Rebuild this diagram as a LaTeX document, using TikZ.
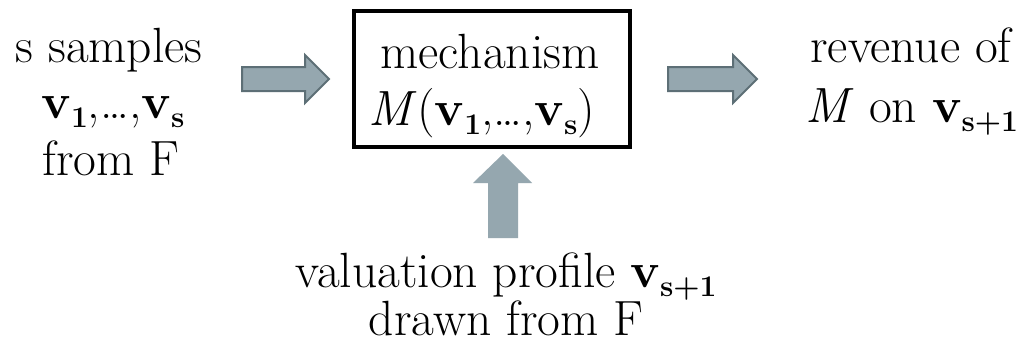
\documentclass[tikz,border=0pt]{standalone}
\usepackage{fontspec}
\newcommand\vsub[1]{\textbf{v}\raisebox{-0.2em}{\fontsize{30}{30}\selectfont\bfseries #1}}
\begin{document}
\begin{tikzpicture}[x=1pt,y=-1pt,
  lbl/.style={anchor=base,inner sep=0pt,font=\fontsize{49.5}{57}\selectfont},
  blockarrow/.style={fill=arrowfill,draw=arrowedge,line width=2pt,line join=miter},
  uparrow/.style={fill=arrowfill},
  mechbox/.style={draw=black,line width=3.5pt}]
\definecolor{arrowfill}{HTML}{95A7AF}
\definecolor{arrowedge}{HTML}{5D6F76}
\useasboundingbox (0,0) rectangle (1023,343);
\fill[white] (0,0) rectangle (1023,343);
% box
\draw[mechbox] (354,11) rectangle (630,147);
% arrows
\draw[blockarrow] (242,67) -- (305,67) -- (305,55) -- (329,79) -- (305,103) -- (305,91) -- (242,91) -- cycle;
\draw[blockarrow] (668,67) -- (733,67) -- (733,55) -- (757,79) -- (733,103) -- (733,91) -- (668,91) -- cycle;
\fill[uparrow] (488,238) -- (488,183) -- (473,183) -- (503,154) -- (532,183) -- (518,183) -- (518,238) -- cycle;
% left text
\node[lbl] (s1) at (109,62) {s samples};
\node[lbl] (s2) at (113,118) {\vsub{1},…,\vsub{s}};
\node[lbl] (s3) at (111,175) {from F};
% box text
\node[lbl] (m1) at (490,68) {mechanism};
\node[lbl] (m2) at (482,125) {\textit{M}(\vsub{1},…,\vsub{s})};
% right text
\node[lbl] (r1) at (911,62) {revenue of};
\node[lbl] (r2) at (912,122) {\textit{M} on \vsub{s+1}};
% bottom text
\node[lbl] (b1) at (506,287) {valuation profile \vsub{s+1}};
\node[lbl] (b2) at (506,335) {drawn from F};
\end{tikzpicture}
\end{document}
